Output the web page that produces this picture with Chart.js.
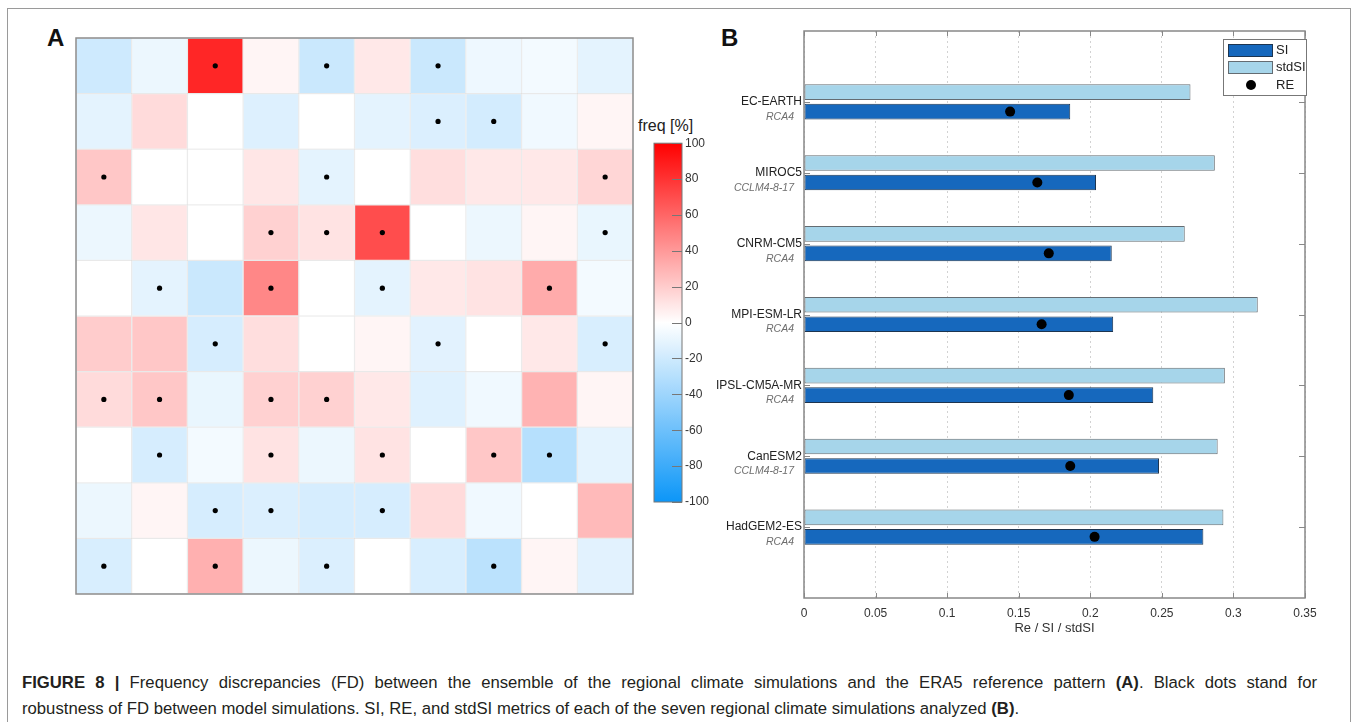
<!DOCTYPE html>
<html>
<head>
<meta charset="utf-8">
<title>Figure 8</title>
<script src="https://cdn.jsdelivr.net/npm/chart.js@4.4.0/dist/chart.umd.min.js"></script>
<style>
  body { margin: 0; background: #fff; width: 1357px; height: 722px; overflow: hidden; position: relative;
         font-family: "Liberation Sans", Arial, sans-serif; color: #222; }
  .frame { position: absolute; left: 7px; top: 8px; width: 1342px; height: 760px; border: 1px solid #9a9a9a; }
  .panel-label { position: absolute; font-size: 24px; font-weight: bold; line-height: 24px; color: #111; }
  .box { position: absolute; }
  #heatBox { left: 72px; top: 34px; width: 565px; height: 564px; }
  #cbBox { left: 650px; top: 133px; width: 76px; height: 380px; }
  #barBox { left: 700px; top: 20px; width: 650px; height: 640px; }
  .cb-title { position: absolute; left: 638px; top: 117px; font-size: 16px; line-height: 18px; color: #222; }
  .caption { position: absolute; left: 22px; font-size: 16.7px; line-height: 26px; white-space: nowrap; color: #231f20; }
  .caption.first { top: 670px; width: 1295px; text-align: justify; text-align-last: justify; white-space: normal; }
  .caption.second { top: 696px; }
</style>
</head>
<body>
<div class="frame"></div>
<div class="panel-label" style="left:47px; top:26px;">A</div>
<div class="panel-label" style="left:721px; top:26px;">B</div>
<div class="box" id="heatBox"><canvas id="heatChart"></canvas></div>
<div class="cb-title">freq [%]</div>
<div class="box" id="cbBox"><canvas id="cbChart"></canvas></div>
<div class="box" id="barBox"><canvas id="barChart"></canvas></div>
<div class="caption first"><b>FIGURE 8 |</b> Frequency discrepancies (FD) between the ensemble of the regional climate simulations and the ERA5 reference pattern <b>(A)</b>. Black dots stand for</div>
<div class="caption second">robustness of FD between model simulations. SI, RE, and stdSI metrics of each of the seven regional climate simulations analyzed <b>(B)</b>.</div>

<script>
// --- Data: panel A (frequency discrepancies, rows top to bottom) ---
const FD_COLUMNS = ['C1', 'C2', 'C3', 'C4', 'C5', 'C6', 'C7', 'C8', 'C9', 'C10'];
const FD_ROWS = [
  [-20, -8, 85, 4, -22, 9, -22, -7, -5, -11],
  [-11, 14, 0, -14, 0, -11, -15, -18, -6, 4],
  [22, 0, 0, 10, -11, 0, 13, 9, 9, 16],
  [-8, 10, 0, 18, 11, 70, 0, -8, 4, -9],
  [0, -11, -22, 47, 0, -11, 9, 11, 33, -5],
  [20, 22, -17, 13, 0, 4, -12, 0, 9, -16],
  [14, 22, -9, 18, 18, 9, -13, -6, 30, 4],
  [0, -17, -5, 11, -8, 11, 0, 22, -30, -11],
  [-8, 4, -17, -15, -17, -17, 14, -6, 0, 27],
  [-16, 0, 31, -8, -15, 0, -16, -28, 4, -12],
];
// columns holding a robustness dot, per row
const ROBUST_COLS = [
  [2, 4, 6],
  [6, 7],
  [0, 4, 9],
  [3, 4, 5, 9],
  [1, 3, 5, 8],
  [2, 6, 9],
  [0, 1, 3, 4],
  [1, 3, 5, 7, 8],
  [2, 3, 5],
  [0, 2, 4, 7],
];

// --- Data: panel B ---
const MODELS = ['EC-EARTH', 'MIROC5', 'CNRM-CM5', 'MPI-ESM-LR', 'IPSL-CM5A-MR', 'CanESM2', 'HadGEM2-ES'];
const RCMS = ['RCA4', 'CCLM4-8-17', 'RCA4', 'RCA4', 'RCA4', 'CCLM4-8-17', 'RCA4'];
const SI = [0.186, 0.204, 0.215, 0.216, 0.244, 0.248, 0.279];
const STD_SI = [0.270, 0.287, 0.266, 0.317, 0.294, 0.289, 0.293];
const RE = [0.144, 0.163, 0.171, 0.166, 0.185, 0.186, 0.203];

const Figure = {
  config: {
    font: '"Liberation Sans", Arial, sans-serif',
    siColor: '#1668bd',
    siBorder: '#1d3550',
    stdColor: '#a6d5ea',
    stdBorder: '#646c72',
    frameColor: '#8c8c8c',
  },

  init() {
    Chart.defaults.font.family = this.config.font;
    Chart.defaults.animation = false;
    this.renderHeatmap();
    this.renderColorbar();
    this.renderBars();
  },

  // --- Utilities ---
  fdColor(v) {
    const t = Math.min(Math.abs(v) / 100, 1);
    const end = v >= 0 ? [255, 0, 0] : [12, 150, 248];
    const c = end.map(e => Math.round(255 + (e - 255) * t));
    return `rgb(${c[0]},${c[1]},${c[2]})`;
  },

  framePlugin(color, width) {
    return {
      id: 'frame',
      afterDraw(chart) {
        const { ctx, chartArea: a } = chart;
        ctx.save();
        ctx.strokeStyle = color;
        ctx.lineWidth = width;
        ctx.strokeRect(a.left, a.top, a.right - a.left, a.bottom - a.top);
        ctx.restore();
      }
    };
  },

  // --- Panel A ---
  renderHeatmap() {
    const rows = FD_ROWS.map((row, r) => ({
      type: 'bar',
      data: row.map(() => [r, r + 1]),
      backgroundColor: row.map(v => this.fdColor(v)),
      borderColor: 'rgba(110,110,110,0.10)',
      borderWidth: 1,
      borderSkipped: false,
      grouped: false,
      categoryPercentage: 1,
      barPercentage: 1,
      order: 1,
    }));
    const dots = {
      type: 'line',
      showLine: false,
      data: ROBUST_COLS.flatMap((cols, r) => cols.map(c => ({ x: FD_COLUMNS[c], y: r + 0.5 }))),
      pointRadius: 2.6,
      pointBackgroundColor: '#000',
      pointBorderWidth: 0,
      order: 0,
    };

    new Chart(document.getElementById('heatChart'), {
      type: 'bar',
      data: { labels: FD_COLUMNS, datasets: [dots, ...rows] },
      options: {
        responsive: true,
        maintainAspectRatio: false,
        layout: { padding: 2 },
        scales: {
          x: { type: 'category', offset: true, display: false },
          y: { type: 'linear', min: 0, max: 10, reverse: true, display: false },
        },
        plugins: { legend: { display: false }, tooltip: { enabled: false } },
      },
      plugins: [this.framePlugin(this.config.frameColor, 1.5)],
    });
  },

  renderColorbar() {
    const fdColor = this.fdColor.bind(this);
    new Chart(document.getElementById('cbChart'), {
      type: 'bar',
      data: {
        labels: ['freq'],
        datasets: [{
          data: [[-100, 100]],
          categoryPercentage: 1,
          barPercentage: 1,
          borderWidth: 0,
          backgroundColor(ctx) {
            const area = ctx.chart.chartArea;
            if (!area) return '#fff';
            const g = ctx.chart.ctx.createLinearGradient(0, area.bottom, 0, area.top);
            for (let i = 0; i <= 40; i++) g.addColorStop(i / 40, fdColor(-100 + i * 5));
            return g;
          },
        }],
      },
      options: {
        responsive: true,
        maintainAspectRatio: false,
        layout: { padding: { left: 4, top: 10, bottom: 11, right: 0 } },
        scales: {
          x: { display: false },
          y: {
            position: 'right', min: -100, max: 100,
            ticks: { stepSize: 20, color: '#333', font: { size: 12 }, padding: 3 },
            grid: { display: false, drawTicks: false },
            border: { display: false },
            afterFit(scale) { scale.width = 44; },
          },
        },
        plugins: { legend: { display: false }, tooltip: { enabled: false } },
      },
      plugins: [this.framePlugin('#777', 1), {
        id: 'cbTicks',
        afterDraw(chart) {
          const { ctx, chartArea: a, scales: { y } } = chart;
          ctx.save();
          ctx.strokeStyle = '#777';
          ctx.lineWidth = 1;
          y.ticks.forEach(t => {
            const py = Math.round(y.getPixelForValue(t.value)) + 0.5;
            ctx.beginPath();
            ctx.moveTo(a.right - 10, py);
            ctx.lineTo(a.right, py);
            ctx.stroke();
          });
          ctx.restore();
        }
      }],
    });
  },

  // --- Panel B ---
  renderBars() {
    const cfg = this.config;
    const labels = ['', ...MODELS, ''];
    const pad = arr => [null, ...arr, null];

    const boxPlugin = {
      id: 'matlabBox',
      afterDraw(chart) {
        const { ctx, chartArea: a, scales: { x, y } } = chart;
        ctx.save();
        ctx.strokeStyle = '#888';
        ctx.lineWidth = 1;
        x.ticks.forEach(t => {
          const px = Math.round(x.getPixelForValue(t.value)) + 0.5;
          ctx.beginPath();
          ctx.moveTo(px, a.top); ctx.lineTo(px, a.top + 5);
          ctx.moveTo(px, a.bottom); ctx.lineTo(px, a.bottom - 5);
          ctx.stroke();
        });
        MODELS.forEach((m, i) => {
          const py = Math.round(y.getPixelForValue(i + 1)) + 0.5;
          ctx.beginPath();
          ctx.moveTo(a.left, py); ctx.lineTo(a.left + 6, py);
          ctx.moveTo(a.right, py); ctx.lineTo(a.right - 6, py);
          ctx.stroke();
        });
        ctx.lineWidth = 1.5;
        ctx.strokeRect(a.left, a.top, a.right - a.left, a.bottom - a.top);

        // RCM names under each driving model
        ctx.fillStyle = '#6e6e6e';
        ctx.font = `italic 10.5px ${cfg.font}`;
        ctx.textAlign = 'right';
        ctx.textBaseline = 'middle';
        RCMS.forEach((r, i) => {
          ctx.fillText(r, a.left - 10, y.getPixelForValue(i + 1) + 15);
        });
        ctx.restore();
      }
    };

    const rePlugin = {
      id: 'reDots',
      afterDatasetsDraw(chart) {
        const { ctx, scales: { x } } = chart;
        const siMeta = chart.getDatasetMeta(1);
        ctx.save();
        ctx.fillStyle = '#000';
        RE.forEach((v, i) => {
          const bar = siMeta.data[i + 1];
          ctx.beginPath();
          ctx.arc(x.getPixelForValue(v), bar.y, 5, 0, Math.PI * 2);
          ctx.fill();
        });
        ctx.restore();
      }
    };

    const legendPlugin = {
      id: 'boxLegend',
      afterDraw(chart) {
        const { ctx, chartArea: a } = chart;
        const bx = a.right - 82, by = a.top + 8, bw = 83, bh = 56;
        ctx.save();
        ctx.fillStyle = '#fff';
        ctx.fillRect(bx, by, bw, bh);
        ctx.strokeStyle = '#777';
        ctx.lineWidth = 1;
        ctx.strokeRect(bx + 0.5, by + 0.5, bw, bh);
        ctx.fillStyle = cfg.siColor;
        ctx.fillRect(bx + 5, by + 5, 44, 12);
        ctx.strokeStyle = cfg.siBorder;
        ctx.strokeRect(bx + 5.5, by + 5.5, 44, 12);
        ctx.fillStyle = cfg.stdColor;
        ctx.fillRect(bx + 5, by + 22, 44, 12);
        ctx.strokeStyle = cfg.stdBorder;
        ctx.strokeRect(bx + 5.5, by + 22.5, 44, 12);
        ctx.fillStyle = '#000';
        ctx.beginPath();
        ctx.arc(bx + 28, by + 46, 5, 0, Math.PI * 2);
        ctx.fill();
        ctx.fillStyle = '#222';
        ctx.font = `13px ${cfg.font}`;
        ctx.textBaseline = 'middle';
        ctx.fillText('SI', bx + 53, by + 11);
        ctx.fillText('stdSI', bx + 53, by + 28);
        ctx.fillText('RE', bx + 53, by + 46);
        ctx.restore();
      }
    };

    new Chart(document.getElementById('barChart'), {
      type: 'bar',
      data: {
        labels,
        datasets: [
          { label: 'stdSI', data: pad(STD_SI), backgroundColor: cfg.stdColor, borderColor: cfg.stdBorder, borderWidth: 1, borderSkipped: false },
          { label: 'SI', data: pad(SI), backgroundColor: cfg.siColor, borderColor: cfg.siBorder, borderWidth: 1, borderSkipped: false },
        ],
      },
      options: {
        indexAxis: 'y',
        responsive: true,
        maintainAspectRatio: false,
        categoryPercentage: 0.55,
        barPercentage: 0.8,
        layout: { padding: { top: 11, right: 45, bottom: 12, left: 0 } },
        scales: {
          x: {
            min: 0, max: 0.35,
            ticks: { stepSize: 0.05, color: '#333', font: { size: 12 }, padding: 8,
                     callback: v => String(+v.toFixed(2)) },
            grid: { color: '#d2d2d2', drawTicks: false },
            border: { display: false, dash: [2, 3] },
            title: { display: true, text: 'Re / SI / stdSI', color: '#333', font: { size: 13 }, padding: { top: 4, bottom: 12 } },
            afterFit(scale) { scale.height = 50; },
          },
          y: {
            offset: false,
            ticks: { color: '#222', font: { size: 12 }, padding: 2, autoSkip: false },
            grid: { display: false, drawTicks: false },
            border: { display: false },
            afterFit(scale) { scale.width = 104; },
          },
        },
        plugins: { legend: { display: false }, tooltip: { enabled: false } },
      },
      plugins: [rePlugin, boxPlugin, legendPlugin],
    });
  },
};

document.addEventListener('DOMContentLoaded', () => Figure.init());
</script>
</body>
</html>
